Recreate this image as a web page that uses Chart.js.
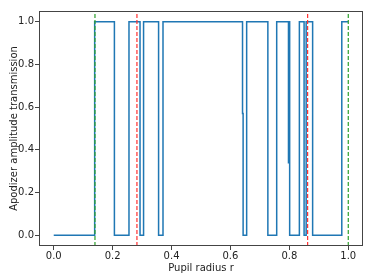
<!DOCTYPE html>
<html>
<head>
<meta charset="utf-8">
<script src="https://cdn.jsdelivr.net/npm/chart.js@4"></script>
<style>
  html, body { margin: 0; padding: 0; background: #fff; }
  #wrap { width: 374px; height: 280px; }
</style>
</head>
<body>
<div id="wrap"><canvas id="chart" width="374" height="280"></canvas></div>
<script>
// step edges (pupil radius) and the transmission value after each edge
const radii = [0, 0.139, 0.206, 0.2555, 0.293, 0.305, 0.356, 0.371, 0.641, 0.643, 0.655,
               0.727, 0.757, 0.797, 0.799, 0.801, 0.834, 0.850, 0.857, 0.879, 0.978, 1.0];
const transmission = [0, 1, 0, 1, 0, 1, 0, 1, 0.57, 0, 1,
                      0, 1, 0.34, 1, 0, 1, 0, 1, 0, 1, 1];
const greenLines = [0.14, 1.0];
const redLines = [0.2825, 0.862];
const xTicks = [0, 0.2, 0.4, 0.6, 0.8, 1.0];
const yTicks = [0, 0.2, 0.4, 0.6, 0.8, 1.0];

const font = { family: 'DejaVu Sans', size: 10 };

function vline(x, color) {
    return {
        data: [{ x: x, y: -0.05 }, { x: x, y: 1.05 }],
        borderColor: color,
        borderWidth: 1.2,
        borderDash: [4, 2],
        pointRadius: 0,
        order: 0
    };
}

const datasets = [{
    data: radii.map((r, i) => ({ x: r, y: transmission[i] })),
    stepped: 'before',
    borderColor: '#1f77b4',
    borderWidth: 1.5,
    pointRadius: 0,
    order: 1
}];
greenLines.forEach(x => datasets.push(vline(x, '#2ca02c')));
redLines.forEach(x => datasets.push(vline(x, '#ff3030')));

// frame around the plot area
const frame = {
    id: 'frame',
    afterDraw(chart) {
        const a = chart.chartArea, ctx = chart.ctx;
        ctx.save();
        ctx.strokeStyle = '#444';
        ctx.lineWidth = 1;
        ctx.strokeRect(a.left + 0.5, a.top + 0.5, a.right - a.left - 1, a.bottom - a.top - 1);
        ctx.restore();
    }
};

new Chart(document.getElementById('chart'), {
    type: 'line',
    data: { datasets: datasets },
    options: {
        responsive: false,
        animation: false,
        layout: { padding: { left: 0, right: 11, top: 11, bottom: 0 } },
        plugins: { legend: { display: false }, tooltip: { enabled: false } },
        scales: {
            x: {
                type: 'linear',
                min: -0.05,
                max: 1.05,
                afterBuildTicks(scale) { scale.ticks = xTicks.map(v => ({ value: v })); },
                afterFit(scale) { scale.height = 34; },
                grid: { drawOnChartArea: false, tickLength: 4, color: '#444' },
                border: { display: false },
                ticks: { font: font, color: '#222', padding: 0, maxRotation: 0,
                         callback: v => v.toFixed(1) },
                title: { display: true, text: 'Pupil radius r', font: font, color: '#222',
                         padding: { top: 0, bottom: 6 } }
            },
            y: {
                min: -0.05,
                max: 1.05,
                afterBuildTicks(scale) { scale.ticks = yTicks.map(v => ({ value: v })); },
                afterFit(scale) { scale.width = 39; },
                grid: { drawOnChartArea: false, tickLength: 4, color: '#444' },
                border: { display: false },
                ticks: { font: font, color: '#222', padding: 1,
                         callback: v => v.toFixed(1) },
                title: { display: true, text: 'Apodizer amplitude transmission', font: font,
                         color: '#222', padding: { top: 8, bottom: 0 } }
            }
        }
    },
    plugins: [frame]
});
</script>
</body>
</html>
